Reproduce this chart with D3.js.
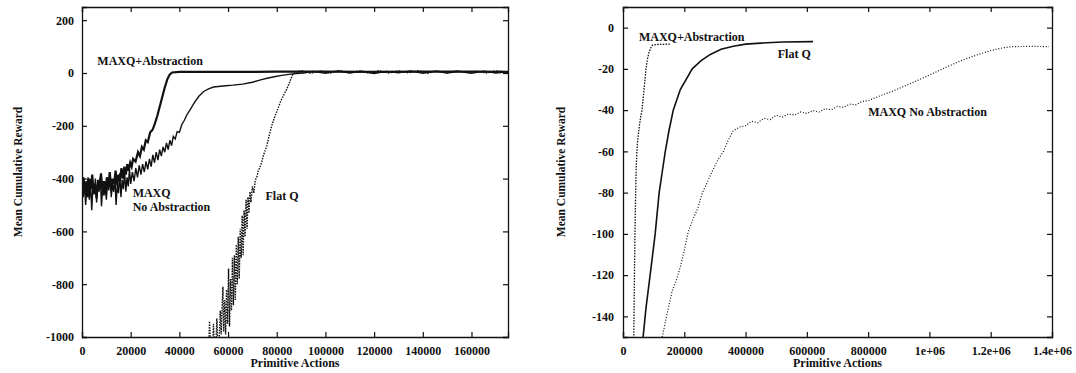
<!DOCTYPE html>
<html>
<head>
<meta charset="utf-8">
<script src="https://cdn.jsdelivr.net/npm/d3@7"></script>
<style>
body { margin: 0; background: #fff; }
svg text { font-family: "Liberation Serif", "DejaVu Serif", serif; font-weight: bold; fill: #111; }
</style>
</head>
<body>
<svg id="chart"></svg>
<script>
// ---- left panel: taxi, short run ----
var leftXTicks = [0, 20000, 40000, 60000, 80000, 100000, 120000, 140000, 160000];
var leftYTicks = [-1000, -800, -600, -400, -200, 0, 200];

var absLeftX = [0, 600, 1200, 1800, 2400, 3000, 3600, 4200, 4800, 5400, 6000, 6600, 7200, 7800, 8400, 9000, 9600, 10200, 10800, 11400, 12000, 12600, 13200, 13800, 14400, 15000, 15600, 16200, 16800, 17400, 18000, 18600, 19200, 19800, 20400, 21000, 22000, 23000, 23800, 24600, 25400, 26200, 27000, 28000, 29000, 30000, 31000, 32000, 33000, 34000, 35000, 36000, 37000, 40000, 60000, 80000, 100000, 120000, 140000, 160000, 175000];
var absLeftY = [-430, -395, -450, -410, -470, -400, -440, -385, -455, -420, -475, -405, -435, -380, -445, -410, -460, -395, -430, -375, -440, -400, -420, -370, -425, -385, -410, -360, -400, -355, -385, -345, -370, -340, -355, -325, -335, -300, -315, -280, -290, -255, -262, -225, -215, -190, -160, -125, -90, -55, -25, -6, 2, 4, 4, 5, 5, 4, 5, 5, 4];

var noAbsLeftX = [0, 500, 1000, 1500, 2000, 2500, 3000, 3500, 4000, 4500, 5000, 5500, 6000, 6500, 7000, 7500, 8000, 8500, 9000, 9500, 10000, 10500, 11000, 11500, 12000, 12500, 13000, 13500, 14000, 14500, 15000, 15500, 16000, 16500, 17000, 17500, 18000, 18500, 19000, 19500, 20000, 20700, 21400, 22100, 22800, 23500, 24200, 24900, 25600, 26300, 27000, 27700, 28400, 29100, 29800, 30500, 31200, 31900, 32600, 33300, 34000, 34700, 35400, 36100, 36800, 37500, 38300, 39100, 40000, 41000, 42000, 43000, 44500, 46300, 48000, 50000, 52000, 54000, 58000, 62000, 66000, 70000, 73000, 76000, 79000, 82000, 85000, 88000, 91000, 95000, 100000, 105000, 110000, 115000, 120000, 125000, 130000, 135000, 140000, 145000, 150000, 155000, 160000, 165000, 170000, 175000];
var noAbsLeftY = [-410, -470, -420, -500, -430, -395, -480, -415, -520, -425, -460, -400, -490, -420, -450, -395, -505, -430, -465, -410, -480, -415, -445, -390, -470, -420, -450, -395, -500, -420, -455, -380, -470, -405, -440, -375, -450, -395, -430, -365, -420, -375, -410, -360, -395, -350, -385, -345, -375, -335, -365, -325, -355, -310, -340, -300, -330, -290, -315, -280, -300, -265, -290, -255, -275, -240, -250, -222, -225, -195, -180, -160, -138, -110, -88, -70, -60, -53, -49, -46, -42, -35, -27, -20, -14, -9, -5, -2, 0, 6, -1, 8, 0, 7, -2, 6, 1, 8, -1, 7, 0, 6, -1, 7, 0, 5];

var flatLeftX = [52000, 52400, 52800, 53600, 54000, 54400, 55000, 55400, 55800, 56400, 56800, 57200, 57600, 57900, 58200, 58600, 59000, 59400, 59800, 60200, 60600, 61000, 61400, 61800, 62200, 62600, 63000, 63400, 63800, 64200, 64600, 65000, 65400, 65800, 66200, 66600, 67000, 67400, 67800, 68200, 68600, 69000, 69400, 70000, 70600, 71200, 71800, 72400, 73000, 73800, 74600, 75200, 75900, 76800, 77900, 79000, 80400, 81500, 82500, 84100, 85300, 86000, 86600, 87500, 90000, 94000, 98000, 102000, 106000, 110000, 114000, 118000, 122000, 126000, 130000, 134000, 138000, 142000, 146000, 150000, 154000, 158000, 162000, 166000, 170000, 175000];
var flatLeftY = [-1050, -940, -1040, -1060, -950, -1050, -1040, -930, -1030, -1000, -900, -990, -870, -810, -980, -860, -990, -820, -950, -740, -960, -780, -900, -700, -880, -690, -860, -650, -800, -620, -780, -590, -700, -540, -690, -520, -620, -480, -590, -470, -530, -450, -490, -430, -455, -405, -395, -370, -360, -338, -310, -295, -277, -240, -201, -170, -137, -110, -90, -61, -35, -18, -5, 0, 9, -1, 8, 0, 9, 1, 8, -1, 9, 0, 8, 1, 9, -1, 8, 0, 9, 1, 7, 0, 8, 4];

// ---- right panel: longer run ----
var rightXTicks = [0, 200000, 400000, 600000, 800000, 1000000, 1200000, 1400000];
var rightXLabels = ["0", "200000", "400000", "600000", "800000", "1e+06", "1.2e+06", "1.4e+06"];
var rightYTicks = [-140, -120, -100, -80, -60, -40, -20, 0];

var absRightX = [35000, 37000, 39000, 41000, 43000, 45000, 47000, 50000, 54000, 58000, 62000, 66000, 70000, 75000, 80000, 85000, 90000, 96000, 110000, 130000, 154000];
var absRightY = [-152, -125, -100, -82, -68, -61, -56, -52, -47, -43, -40, -34, -28, -20, -15, -12, -10, -8.5, -8.2, -8.1, -8];

var flatRightX = [65600, 75000, 88500, 105000, 118000, 128000, 138000, 150000, 164000, 187000, 226000, 255000, 285000, 320000, 360000, 400000, 450000, 520000, 620000];
var flatRightY = [-150, -136, -120, -100, -80, -70, -60, -50, -40, -30, -20, -16, -13, -10.5, -9, -8, -7.5, -7, -6.8];

var noAbsRightX = [128000, 145000, 160000, 175000, 187000, 200000, 213000, 228000, 243000, 259000, 269000, 290000, 310000, 328000, 345000, 360000, 380000, 400000, 420000, 440000, 460000, 480000, 500000, 520000, 540000, 560000, 580000, 600000, 620000, 640000, 660000, 680000, 700000, 720000, 740000, 760000, 780000, 800000, 840000, 885000, 940000, 997000, 1050000, 1105000, 1160000, 1203000, 1240000, 1269000, 1330000, 1390000];
var noAbsRightY = [-150, -138, -128, -122, -116, -108, -99, -93, -88, -80, -77, -70, -64, -60, -54, -50, -48.2, -47.6, -45.4, -46.1, -44.0, -44.6, -42.5, -43.4, -41.8, -42.4, -40.9, -41.6, -40.2, -40.9, -39.3, -39.8, -38.2, -38.6, -37.1, -37.4, -35.8, -35.4, -33, -30.5, -27, -23.2, -19.5, -15.9, -13, -11, -9.8, -9.2, -9.1, -9.2];

var svgWidth = 1076, svgHeight = 373;
var svg = d3.select('#chart')
	.attr("width", svgWidth)
	.attr("height", svgHeight);

function zip(xs, ys){
	return xs.map(function(x, i){ return [x, ys[i]]; });
}

// draws one gnuplot-style frame, returns the scales
function panel(opt){
	var x = d3.scaleLinear().domain(opt.xDomain).range([opt.left, opt.right]);
	var y = d3.scaleLinear().domain(opt.yDomain).range([opt.bottom, opt.top]);
	var g = svg.append("g");

	var clipId = "clip" + opt.left;
	svg.append("clipPath").attr("id", clipId)
		.append("rect")
		.attr("x", opt.left).attr("y", opt.top)
		.attr("width", opt.right - opt.left)
		.attr("height", opt.bottom - opt.top);

	// ticks on all four sides, pointing inwards
	g.append("g")
		.attr("transform", `translate(0,${opt.bottom})`)
		.call(d3.axisBottom(x).tickValues(opt.xTicks).tickSize(-5).tickPadding(9)
			.tickFormat(function(d, i){ return opt.xLabels ? opt.xLabels[i] : String(d); }))
		.call(style);
	g.append("g")
		.attr("transform", `translate(0,${opt.top})`)
		.call(d3.axisTop(x).tickValues(opt.xTicks).tickSize(-5).tickFormat(""))
		.call(style);
	g.append("g")
		.attr("transform", `translate(${opt.left},0)`)
		.call(d3.axisLeft(y).tickValues(opt.yTicks).tickSize(-5).tickPadding(opt.yPad).tickFormat(String))
		.call(style);
	g.append("g")
		.attr("transform", `translate(${opt.right},0)`)
		.call(d3.axisRight(y).tickValues(opt.yTicks).tickSize(-5).tickFormat(""))
		.call(style);

	g.append("text")
		.attr("x", (opt.left + opt.right) / 2)
		.attr("y", 367)
		.attr("text-anchor", "middle")
		.style("font-size", "12px")
		.text("Primitive Actions");
	g.append("text")
		.attr("transform", `translate(${opt.titleX},${(opt.top + opt.bottom) / 2}) rotate(-90)`)
		.attr("text-anchor", "middle")
		.style("font-size", "11.5px")
		.text("Mean Cumulative Reward");

	return {x: x, y: y, clip: "url(#" + clipId + ")"};
}

function style(sel){
	sel.select(".domain").attr("stroke", "#111").attr("stroke-width", 1.3);
	sel.selectAll(".tick line").attr("stroke", "#111").attr("stroke-width", 1.2);
	sel.selectAll(".tick text").style("font-size", "12px").attr("fill", "#111");
}

function curve(p, data, width, dash){
	var line = d3.line()
		.x(function(d){ return p.x(d[0]); })
		.y(function(d){ return p.y(d[1]); });
	svg.append("path")
		.datum(data)
		.attr("clip-path", p.clip)
		.attr("fill", "none")
		.attr("stroke", "#111")
		.attr("stroke-width", width)
		.attr("stroke-dasharray", dash)
		.attr("d", line);
}

function label(p, xv, yv, lines){
	var t = svg.append("text")
		.style("font-size", "12px");
	lines.forEach(function(s, i){
		t.append("tspan")
			.attr("x", p.x(xv))
			.attr("y", p.y(yv) + i * 14)
			.text(s);
	});
}

var L = panel({left: 82, right: 508, top: 7, bottom: 337,
	xDomain: [0, 175000], yDomain: [-1000, 250],
	xTicks: leftXTicks, yTicks: leftYTicks, yPad: 8, titleX: 22});

curve(L, zip(flatLeftX, flatLeftY), 1.4, "1.5,1.2");
curve(L, zip(noAbsLeftX, noAbsLeftY), 1.4, null);
curve(L, zip(absLeftX, absLeftY), 2.2, null);

label(L, 6300, 30, ["MAXQ+Abstraction"]);
label(L, 20800, -470, ["MAXQ", "No Abstraction"]);
label(L, 75400, -480, ["Flat Q"]);

var R = panel({left: 623, right: 1052, top: 7, bottom: 337,
	xDomain: [0, 1400000], yDomain: [-150, 10],
	xTicks: rightXTicks, xLabels: rightXLabels, yTicks: rightYTicks, yPad: 9, titleX: 565});

curve(R, zip(absRightX, absRightY), 1.3, "1.5,1.3");
curve(R, zip(flatRightX, flatRightY), 1.6, null);
curve(R, zip(noAbsRightX, noAbsRightY), 1.2, "1,1.8");

label(R, 52000, -6.5, ["MAXQ+Abstraction"]);
label(R, 505000, -14.5, ["Flat Q"]);
label(R, 800000, -43, ["MAXQ No Abstraction"]);
</script>
</body>
</html>
